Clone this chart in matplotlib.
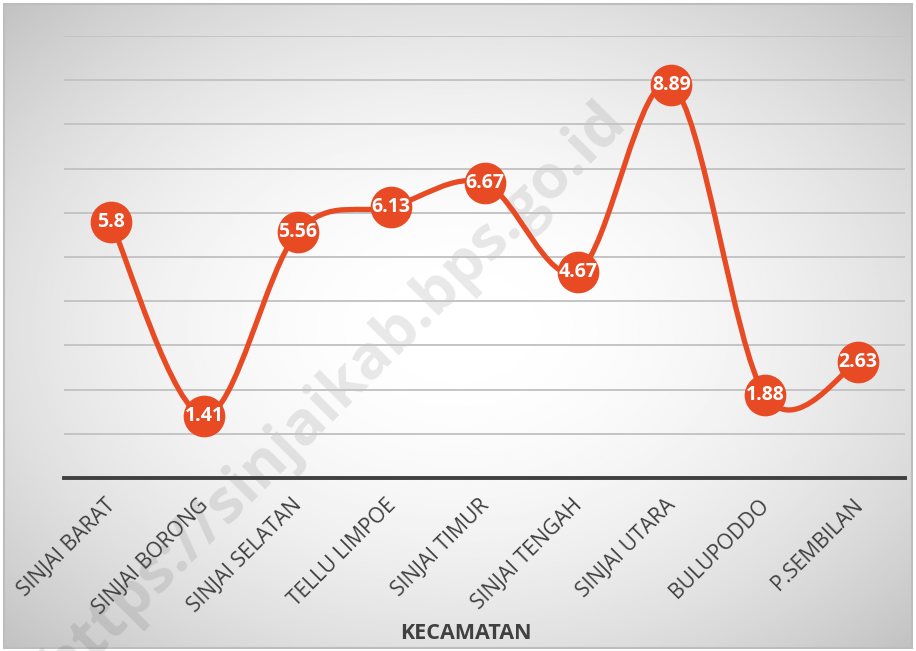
import numpy as np
import matplotlib
matplotlib.use('Agg')
import matplotlib.pyplot as plt
import matplotlib.transforms as mtransforms
from matplotlib.path import Path
from matplotlib.patches import PathPatch, Rectangle

kecamatan = ['SINJAI BARAT', 'SINJAI BORONG', 'SINJAI SELATAN', 'TELLU LIMPOE',
             'SINJAI TIMUR', 'SINJAI TENGAH', 'SINJAI UTARA', 'BULUPODDO', 'P.SEMBILAN']
nilai = [5.8, 1.41, 5.56, 6.13, 6.67, 4.67, 8.89, 1.88, 2.63]
label_nilai = ['5.8', '1.41', '5.56', '6.13', '6.67', '4.67', '8.89', '1.88', '2.63']

merah = '#E84A24'
W, H = 916, 651

fig = plt.figure(figsize=(W / 100, H / 100), dpi=100)
fig.patch.set_facecolor('white')

# latar gradien radial
bg = fig.add_axes([4 / W, 3 / H, 908 / W, 644 / H], zorder=-5)
gx, gy = np.meshgrid(np.linspace(-1, 1, 400), np.linspace(-1, 1, 300))
r2 = gx ** 2 + gy ** 2
img = 1 - 0.12 * r2
bg.imshow(img, cmap='gray', vmin=0, vmax=1, aspect='auto', extent=[0, 1, 0, 1])
bg.set_axis_off()
fig.patches.append(Rectangle((4 / W, 3 / H), 908 / W, 644 / H, transform=fig.transFigure,
                             fill=False, edgecolor='#bdbdbd', linewidth=1.5, zorder=-4))

# watermark
fig.text(0.365, 0.395, 'https://sinjaikab.bps.go.id', rotation=45, fontsize=44,
         fontweight='bold', color='#000000', alpha=0.09, ha='center', va='center',
         family='Open Sans', zorder=-1)

ax = fig.add_axes([64 / W, 1 - 478 / H, 841 / W, 442 / H])
ax.patch.set_alpha(0)
ax.set_xlim(-0.5, len(kecamatan) - 0.5)
ax.set_ylim(0, 10)

for v in range(1, 11):
    ax.axhline(v, color='#c4c4c4', linewidth=1.4, zorder=1)
ax.axhline(0, color='#404040', linewidth=2.8, zorder=2, clip_on=False)

for s in ax.spines.values():
    s.set_visible(False)

# garis halus (bezier ala excel)
x = np.arange(len(nilai), dtype=float)
y = np.array(nilai)
verts = [(x[0], y[0])]
codes = [Path.MOVETO]
n = len(x)
for i in range(n - 1):
    p0 = np.array([x[max(i - 1, 0)], y[max(i - 1, 0)]])
    p1 = np.array([x[i], y[i]])
    p2 = np.array([x[i + 1], y[i + 1]])
    p3 = np.array([x[min(i + 2, n - 1)], y[min(i + 2, n - 1)]])
    c1 = p1 + (p2 - p0) / 6
    c2 = p2 - (p3 - p1) / 6
    verts += [tuple(c1), tuple(c2), tuple(p2)]
    codes += [Path.CURVE4] * 3
ax.add_patch(PathPatch(Path(verts, codes), fill=False, edgecolor=merah,
                       linewidth=3.8, capstyle='round', zorder=3))

ax.plot(x, y, 'o', markersize=29, color=merah, markeredgecolor=merah, zorder=4)
for xi, yi, t in zip(x, y, label_nilai):
    ax.text(xi, yi, t, ha='center', va='center', color='white', fontsize=14,
            fontweight='bold', family='Open Sans', zorder=5)

ax.set_yticks([])
ax.set_xticks(x)
ax.set_xticklabels(kecamatan, rotation=45, ha='right', va='top', rotation_mode='anchor',
                   fontsize=15.2, color='#404040', family='Open Sans')
ax.tick_params(axis='x', length=0, pad=12)
geser = mtransforms.ScaledTranslation(-6 / 100, 0, fig.dpi_scale_trans)
for lbl in ax.get_xticklabels():
    lbl.set_transform(lbl.get_transform() + geser)
ax.set_xlabel('KECAMATAN', fontsize=15.5, fontweight='bold', color='#404040',
              family='Open Sans', va='center')
ax.xaxis.set_label_coords(0.478, -0.352)

fig.savefig('out.png', dpi=100)
